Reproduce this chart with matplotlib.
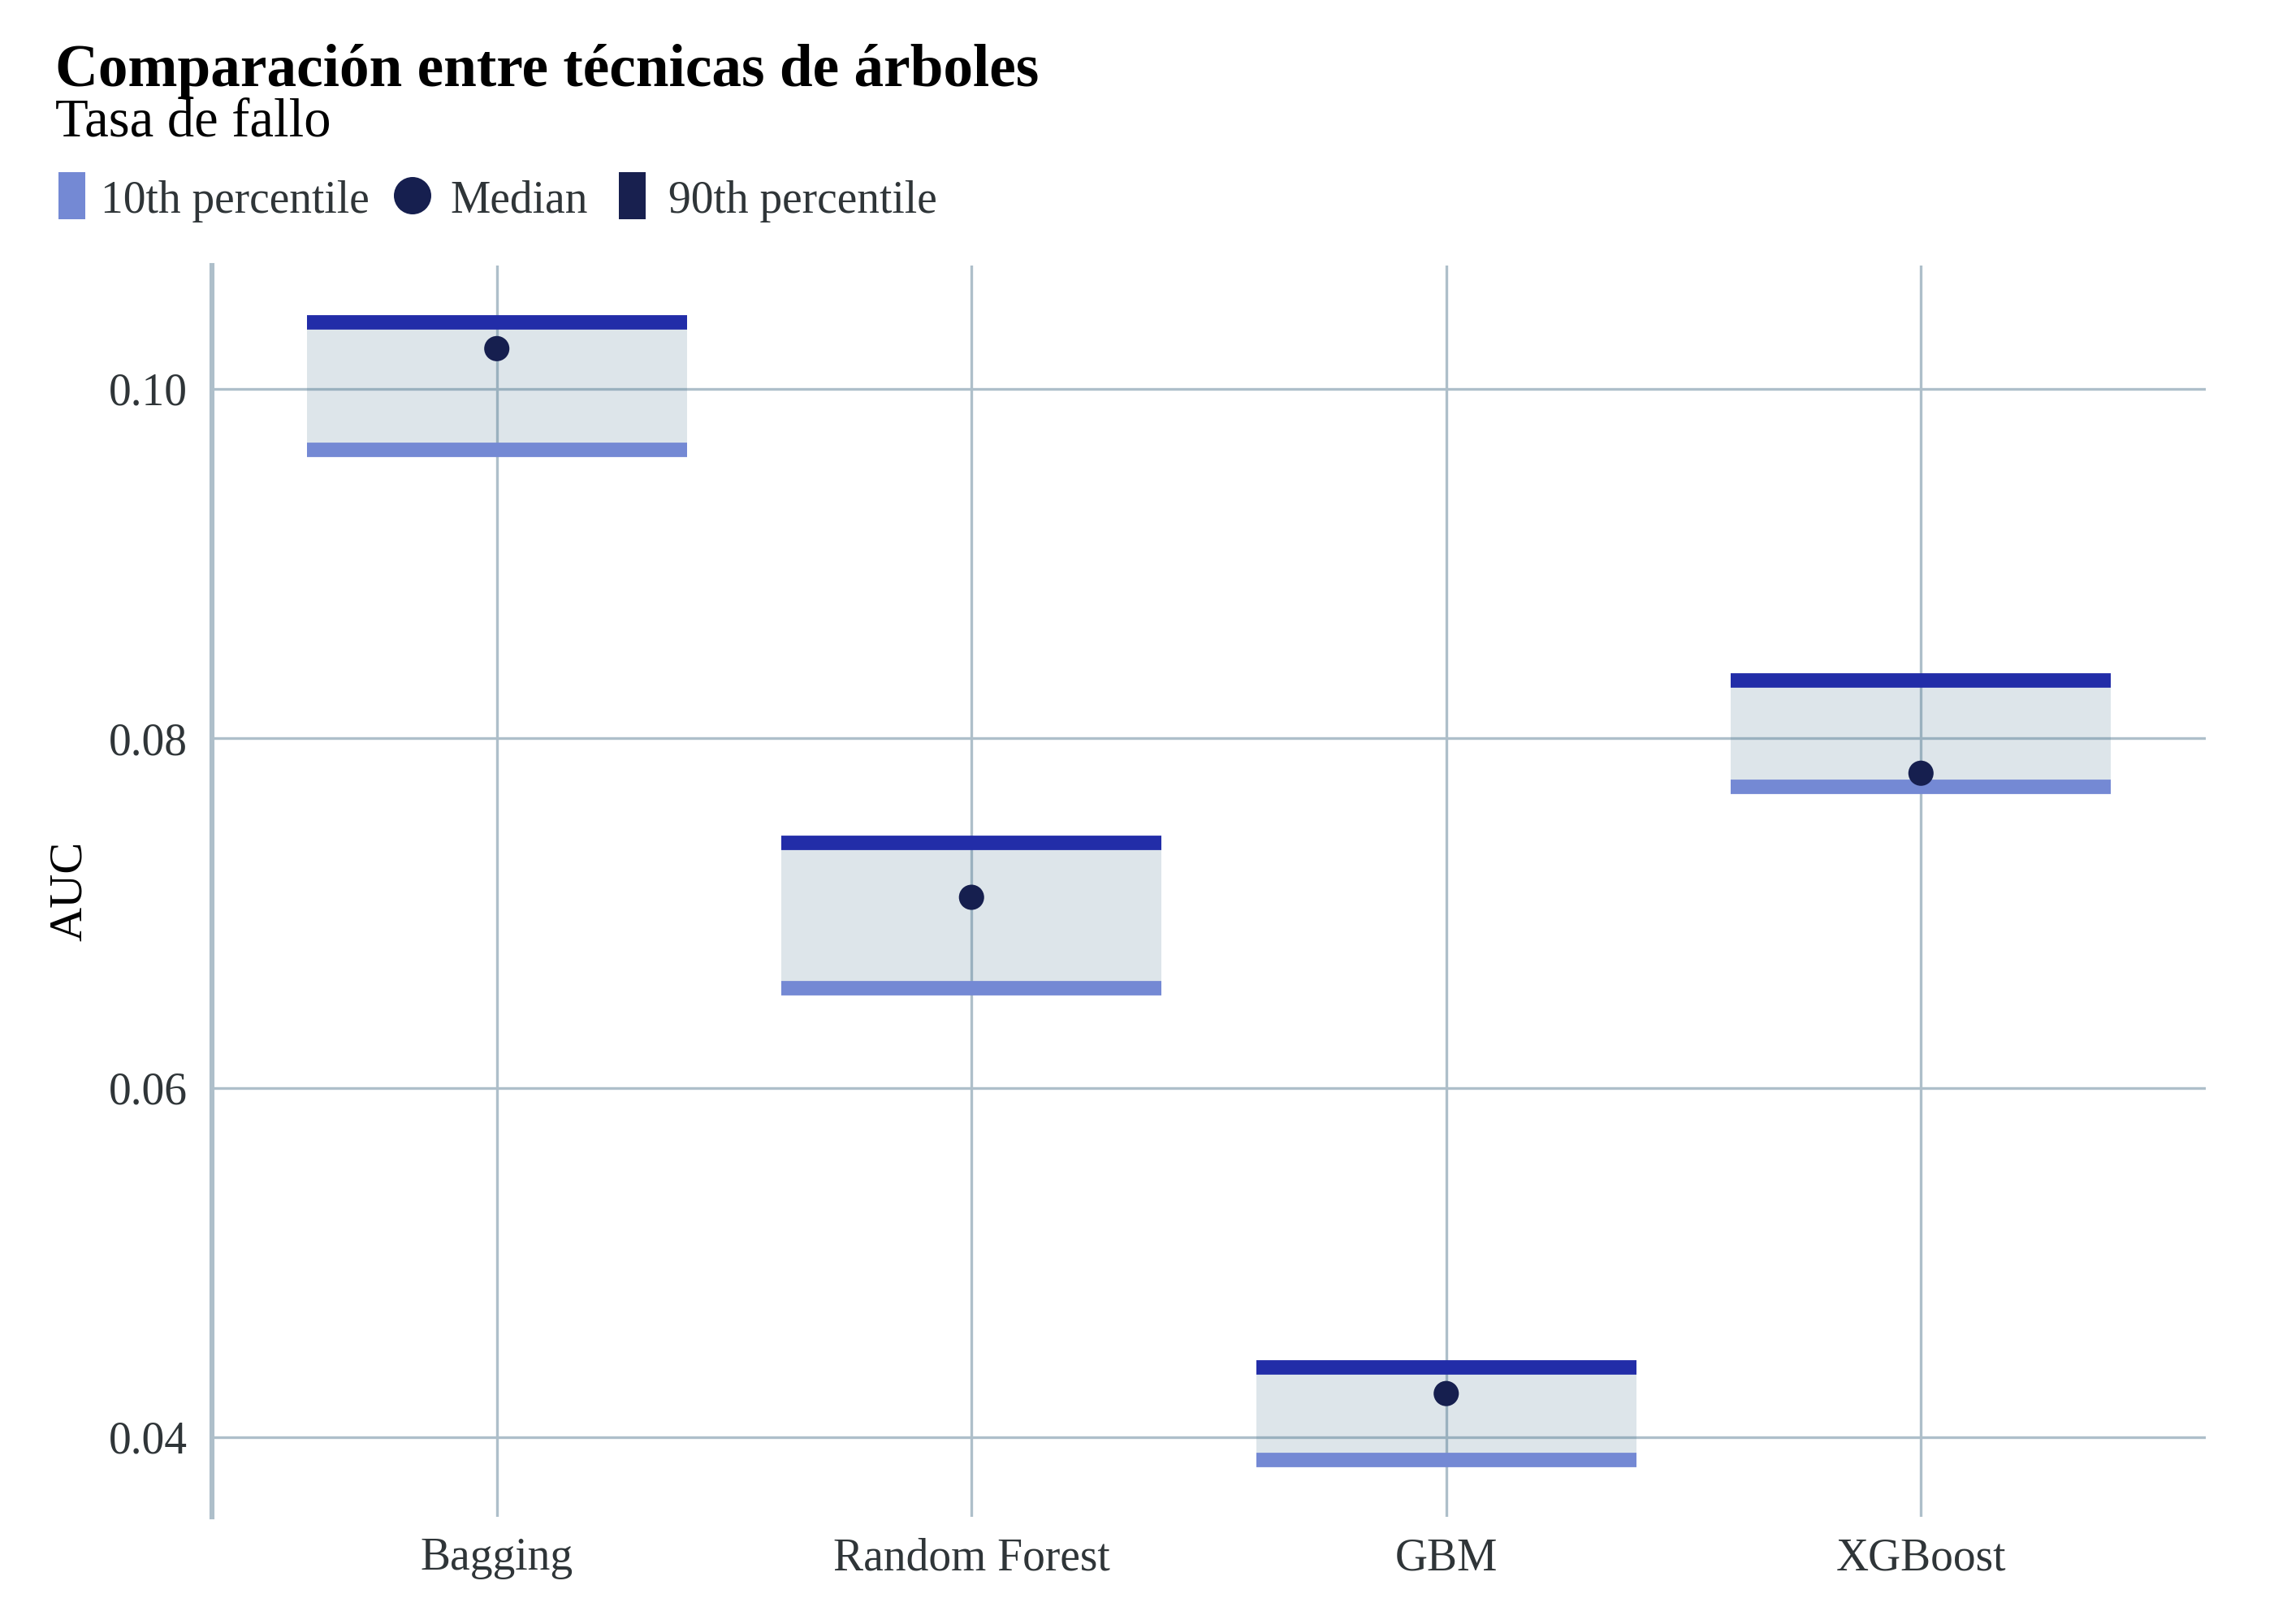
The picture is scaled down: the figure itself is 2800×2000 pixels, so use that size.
import matplotlib
matplotlib.use('Agg')
import matplotlib.pyplot as plt
from matplotlib.patches import Rectangle, Ellipse
import numpy as np

categories = ['Bagging', 'Random Forest', 'GBM', 'XGBoost']
p10 = [0.0965, 0.0657, 0.0387, 0.0772]
median = [0.1023, 0.0709, 0.0425, 0.0780]
p90 = [0.1038, 0.0740, 0.0440, 0.0833]
yticks = [0.04, 0.06, 0.08, 0.10]
ytick_labels = ['0.04', '0.06', '0.08', '0.10']
legend_labels = ['10th percentile', 'Median', '90th percentile']
title = 'Comparación entre técnicas de árboles'
subtitle = 'Tasa de fallo'
ylabel = 'AUC'

plt.rcParams['font.family'] = ['Liberation Serif', 'DejaVu Serif']

W, H = 2800, 2000
fig = plt.figure(figsize=(14, 10), dpi=200)
fig.patch.set_facecolor('white')

def fx(px):
    return px / W

def fy(py):
    return 1 - py / H

ax = fig.add_axes([fx(261), fy(1868), (2716 - 261) / W, (1868 - 327) / H])
ax.set_facecolor('white')

grid_col = '#AEBFCA'
dark_bar = '#222DA8'
light_bar = '#7489D4'
navy = '#161F4F'
text_col = '#2F3538'

x = np.arange(len(categories))
lo, hi = min(p10), max(p90)
pad = 0.05 * (hi - lo)
ax.set_ylim(lo - pad, hi + pad)
ax.set_xlim(-0.6, len(categories) - 0.4)

ax.set_axisbelow(True)
ax.grid(True, color=grid_col, linewidth=1.2, zorder=0)
for s in ['top', 'right', 'bottom']:
    ax.spines[s].set_visible(False)
ax.spines['left'].set_color(grid_col)
ax.spines['left'].set_linewidth(2.2)

p10a = np.array(p10)
p90a = np.array(p90)
ax.bar(x, p90a - p10a, bottom=p10a, width=0.8, color='#42708D', alpha=0.175,
       linewidth=0, zorder=2)
ax.hlines(p10a, x - 0.4, x + 0.4, colors=light_bar, linewidth=6.4,
          capstyle='butt', zorder=3)
ax.hlines(p90a, x - 0.4, x + 0.4, colors=dark_bar, linewidth=6.4,
          capstyle='butt', zorder=3)
ax.scatter(x, median, s=125, color=navy, edgecolors='none', zorder=4)

ax.set_xticks(x, categories)
ax.set_yticks(yticks, ytick_labels)
ax.tick_params(axis='both', length=0, labelsize=20, labelcolor=text_col)
ax.tick_params(axis='y', pad=11)
ax.tick_params(axis='x', pad=9)

# Titles
fig.text(fx(68), fy(106), title, fontsize=26.4, fontweight='bold', color='black',
         va='baseline', ha='left')
fig.text(fx(68), fy(167), subtitle, fontsize=24, color='black',
         va='baseline', ha='left')
fig.text(fx(86), fy(1097), ylabel, fontsize=21, color='black', rotation=90,
         va='center', ha='center')

# Legend
fig.add_artist(Rectangle((fx(72), fy(270)), 33 / W, 58 / H, transform=fig.transFigure,
                         facecolor=light_bar, edgecolor='none'))
fig.text(fx(124), fy(262), legend_labels[0], fontsize=20, color=text_col, va='baseline')
fig.add_artist(Ellipse((fx(508), fy(241)), 46 / W, 46 / H, transform=fig.transFigure,
                       facecolor=navy, edgecolor='none'))
fig.text(fx(554), fy(262), legend_labels[1], fontsize=20, color=text_col, va='baseline')
fig.add_artist(Rectangle((fx(762), fy(270)), 33 / W, 58 / H, transform=fig.transFigure,
                         facecolor='#18204F', edgecolor='none'))
fig.text(fx(823), fy(262), legend_labels[2], fontsize=20, color=text_col, va='baseline')

fig.savefig('out.png', dpi=200, facecolor='white')
